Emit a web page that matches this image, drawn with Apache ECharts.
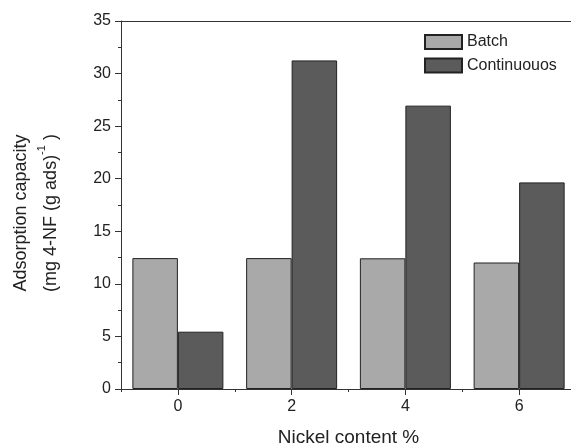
<!DOCTYPE html>
<html>
<head>
<meta charset="utf-8">
<script src="https://cdn.jsdelivr.net/npm/echarts@6/dist/echarts.min.js"></script>
<style>
html,body{margin:0;padding:0;background:#fff;}
#c{width:571px;height:446px;}
</style>
</head>
<body>
<div id="c"></div>
<script>
const categories = ['0', '2', '4', '6'];
const batch = [12.45, 12.45, 12.43, 12.03];
const continuous = [5.45, 31.25, 26.95, 19.65];
const yTicks = { min: 0, max: 35, interval: 5 };
const seriesNames = ['Batch', 'Continuouos'];

const FONT = '"Liberation Sans", Arial, Helvetica, sans-serif';
const chart = echarts.init(document.getElementById('c'), null, { renderer: 'canvas' });
chart.setOption({
  animation: false,
  backgroundColor: '#fff',
  grid: { left: 121, top: 21, bottom: 57, right: -5, containLabel: false, outerBoundsMode: 'none' },
  legend: {
    orient: 'vertical',
    left: 424,
    top: 34,
    itemWidth: 37,
    itemHeight: 14,
    itemGap: 7.5,
    padding: 0,
    icon: 'rect',
    textStyle: { fontFamily: FONT, fontSize: 16, color: '#222' },
    data: seriesNames
  },
  xAxis: [
    {
      type: 'category', position: 'bottom', data: categories,
      axisLine: { lineStyle: { color: '#333', width: 1 } },
      axisTick: { show: true, alignWithLabel: false, inside: false, length: 3, lineStyle: { color: '#333' } },
      axisLabel: { fontFamily: FONT, fontSize: 16, color: '#222', margin: 10 },
      splitLine: { show: false },
      name: 'Nickel content %',
      nameLocation: 'middle',
      nameGap: 39,
      nameTextStyle: { fontFamily: FONT, fontSize: 19, color: '#222' }
    },
    {
      type: 'category', position: 'bottom', data: categories,
      axisLine: { show: false },
      axisTick: { show: true, alignWithLabel: true, length: 6, lineStyle: { color: '#333' } },
      axisLabel: { show: false },
      splitLine: { show: false }
    },
    {
      type: 'category', position: 'top', data: categories,
      axisLine: { show: true, lineStyle: { color: '#333', width: 1 } },
      axisTick: { show: false },
      axisLabel: { show: false },
      splitLine: { show: false }
    }
  ],
  yAxis: {
    type: 'value', min: yTicks.min, max: yTicks.max, interval: yTicks.interval,
    axisLine: { show: true, lineStyle: { color: '#333', width: 1 } },
    axisTick: { show: true, length: 6, lineStyle: { color: '#333' } },
    minorTick: { show: true, splitNumber: 2, length: 3, lineStyle: { color: '#333' } },
    axisLabel: { fontFamily: FONT, fontSize: 16, color: '#222', margin: 10 },
    splitLine: { show: false },
    name: 'Adsorption capacity\n(mg 4-NF (g ads){sup|-1} )',
    nameLocation: 'middle',
    nameGap: 55,
    nameTextStyle: {
      fontFamily: FONT, fontSize: 18, color: '#222', lineHeight: 30, align: 'center',
      padding: [0, 16, 0, 0],
      rich: { sup: { fontFamily: FONT, fontSize: 11, color: '#222', verticalAlign: 'top', padding: [0, 0, 12, 0] } }
    }
  },
  series: [
    {
      name: seriesNames[0], type: 'bar', xAxisIndex: 0, data: batch,
      barWidth: '40%', barGap: '0%',
      itemStyle: { color: '#a9a9a9', borderColor: '#222', borderWidth: 1 }
    },
    {
      name: seriesNames[1], type: 'bar', xAxisIndex: 0, data: continuous,
      barWidth: '40%', barGap: '0%',
      itemStyle: { color: '#5b5b5b', borderColor: '#222', borderWidth: 1 }
    }
  ]
});
</script>
</body>
</html>
